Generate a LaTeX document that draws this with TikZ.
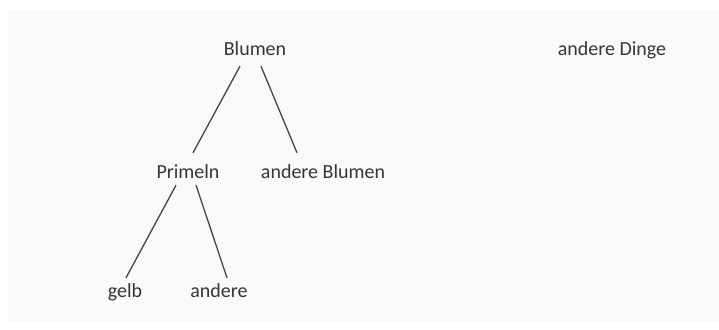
\documentclass[tikz,border=0pt]{standalone}
\usepackage{fontspec}
\setmainfont{Carlito}
\usepackage{xcolor}
\usepackage{tikz}
\definecolor{inkgray}{HTML}{363636}
\definecolor{linegray}{HTML}{454545}
\definecolor{paper}{HTML}{F9F9F9}

\begin{document}
\begin{tikzpicture}[x=1pt, y=-1pt,
  word/.style={anchor=base, inner sep=0pt, text height=13pt, text depth=5pt,
    font=\fontsize{20}{24}\selectfont, text=inkgray},
  branch/.style={linegray, line width=1.3pt}]
  % Page and grey sheet
  \useasboundingbox (0,0) rectangle (719,329);
  \fill[white] (0,0) rectangle (719,329);
  \fill[paper] (8,10) rectangle (719,322);
  % Top level
  \node[word] (blumen) at (255,56) {Blumen};
  \node[word] (dinge) at (612,56) {andere Dinge};
  % Second level
  \node[word] (primeln) at (188,178) {Primeln};
  \node[word] (andblumen) at (323,178) {andere Blumen};
  % Third level
  \node[word] (gelb) at (125,297) {gelb};
  \node[word] (andere) at (219,297) {andere};
  % Branches
  \draw[branch] ([xshift=-15pt,yshift=-5pt]blumen.south) -- ([xshift=5pt,yshift=12pt]primeln.north);
  \draw[branch] ([xshift=6pt,yshift=-5pt]blumen.south) -- ([xshift=-26pt,yshift=12pt]andblumen.north);
  \draw[branch] ([xshift=-12pt,yshift=-2pt]primeln.south) -- ([xshift=1pt,yshift=6pt]gelb.north);
  \draw[branch] ([xshift=8pt,yshift=-2pt]primeln.south) -- ([xshift=8pt,yshift=6pt]andere.north);
\end{tikzpicture}
\end{document}
